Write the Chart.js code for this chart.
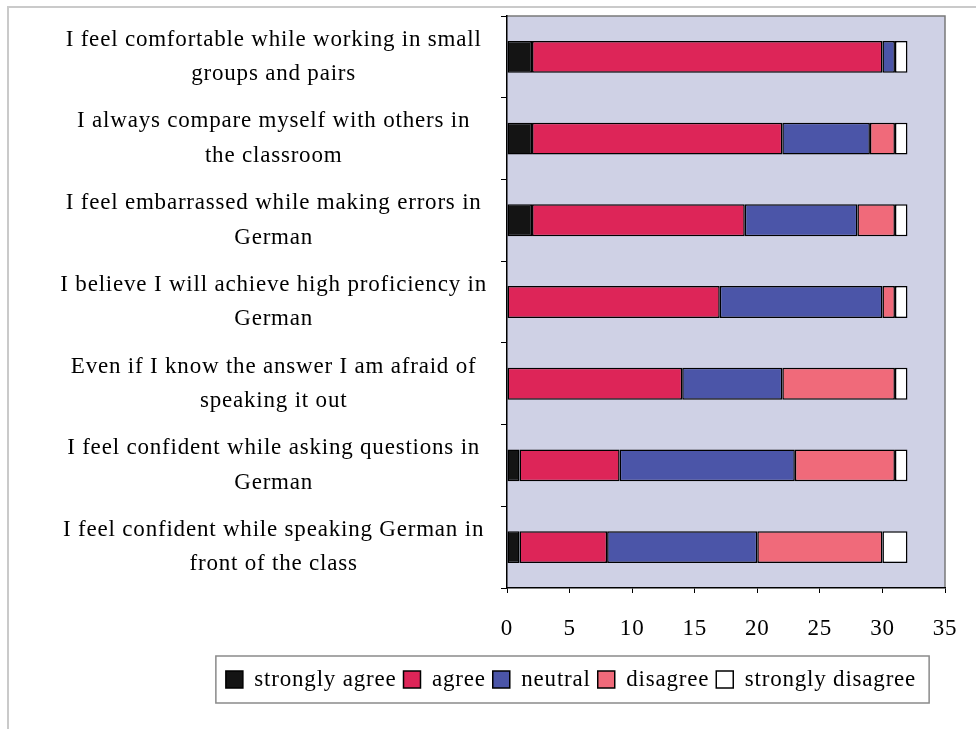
<!DOCTYPE html>
<html>
<head>
<meta charset="utf-8">
<title>Speaking German in class</title>
<script src="https://cdn.jsdelivr.net/npm/chart.js@4.4.1/dist/chart.umd.min.js"></script>
<style>
    html, body {
        margin: 0;
        padding: 0;
        background: #ffffff;
    }
    #chartBox {
        position: relative;
        width: 976px;
        height: 729px;
    }
</style>
</head>
<body>
<div id="chartBox">
    <canvas id="attitudeChart" width="976" height="729"></canvas>
</div>
<script>
// statements, top to bottom (each one wrapped on two lines)
const statements = [
    ['I feel comfortable while working in small', 'groups and pairs'],
    ['I always compare myself with others in', 'the classroom'],
    ['I feel embarrassed while making errors in', 'German'],
    ['I believe I will achieve high proficiency in', 'German'],
    ['Even if I know the answer I am afraid of', 'speaking it out'],
    ['I feel confident while asking questions in', 'German'],
    ['I feel confident while speaking German in', 'front of the class']
];

// number of students per answer
const stronglyAgree = [2, 2, 2, 0, 0, 1, 1];
const agree = [28, 20, 17, 17, 14, 8, 7];
const neutral = [1, 7, 9, 13, 8, 14, 12];
const disagree = [0, 2, 3, 1, 9, 8, 10];
const stronglyDisagree = [1, 1, 1, 1, 1, 1, 2];

const answerLabels = ['strongly agree', 'agree', 'neutral', 'disagree', 'strongly disagree'];
const answerColors = ['#141414', '#dd2558', '#4b55a8', '#f06a7a', '#ffffff'];

const axisMax = 35;
const axisStep = 5;

const serif = "'Liberation Serif', 'Times New Roman', serif";
const plotBackground = '#cfd1e5';

// the old Excel text is set a little loose
const letterSpacing = {
    id: 'letterSpacing',
    beforeUpdate(chart) {
        chart.ctx.letterSpacing = '0.8px';
    },
    beforeDraw(chart) {
        chart.ctx.letterSpacing = '0.8px';
    }
};

// grey plot area with its frame, plus the outer frame of the figure
const plotFrame = {
    id: 'plotFrame',
    beforeDraw(chart) {
        const {ctx, chartArea: {left, top, right, bottom}} = chart;
        ctx.save();
        ctx.strokeStyle = '#cacaca';
        ctx.lineWidth = 2;
        ctx.beginPath();
        ctx.moveTo(8, chart.height);
        ctx.lineTo(8, 7);
        ctx.lineTo(chart.width, 7);
        ctx.stroke();

        ctx.fillStyle = plotBackground;
        ctx.fillRect(left, top, right - left, bottom - top);
        ctx.strokeStyle = '#7a7a7a';
        ctx.lineWidth = 1.5;
        ctx.beginPath();
        ctx.moveTo(left, top);
        ctx.lineTo(right, top);
        ctx.lineTo(right, bottom);
        ctx.stroke();
        ctx.restore();
    }
};

// legend sits under the plot, a bit left of centre, inside a box
const legendBox = {
    id: 'legendBox',
    afterLayout(chart) {
        const legend = chart.legend;
        const shift = 571 - (legend.left + legend.right) / 2;
        legend.left += shift;
        legend.right += shift;
        const h = legend.bottom - legend.top;
        legend.top = 661;
        legend.bottom = 661 + h;
    },
    afterDraw(chart) {
        const legend = chart.legend;
        const pad = legend.options.labels.padding;
        const lineWidth = legend.lineWidths[0];
        const rowStart = (legend.left + pad + legend.right - lineWidth) / 2;
        const ctx = chart.ctx;
        ctx.save();
        ctx.strokeStyle = '#8a8a8a';
        ctx.lineWidth = 1.5;
        ctx.strokeRect(rowStart - 10, legend.top - 5, lineWidth - pad + 23, 47);
        ctx.restore();
    }
};

const datasets = [stronglyAgree, agree, neutral, disagree, stronglyDisagree].map((values, i) => ({
    label: answerLabels[i],
    data: values,
    backgroundColor: answerColors[i],
    borderColor: '#000000',
    borderWidth: 1.5,
    borderSkipped: false,
    barPercentage: 0.39,
    categoryPercentage: 1
}));

new Chart(document.getElementById('attitudeChart'), {
    type: 'bar',
    data: {
        labels: statements,
        datasets: datasets
    },
    options: {
        indexAxis: 'y',
        responsive: false,
        animation: false,
        layout: {
            padding: {left: 0, top: 16, right: 31, bottom: 51}
        },
        scales: {
            x: {
                stacked: true,
                min: 0,
                max: axisMax,
                ticks: {
                    stepSize: axisStep,
                    color: '#000000',
                    padding: 22,
                    font: {family: serif, size: 23, lineHeight: 1.2}
                },
                grid: {
                    drawOnChartArea: false,
                    color: '#000000',
                    tickLength: 5
                },
                border: {color: '#000000', width: 1.5},
                afterFit(scale) {
                    scale.height = 50;
                    scale.paddingLeft = 0;
                    scale.paddingRight = 0;
                }
            },
            y: {
                stacked: true,
                ticks: {
                    color: '#000000',
                    padding: 14,
                    crossAlign: 'center',
                    font: {family: serif, size: 23, lineHeight: 1.5}
                },
                grid: {
                    drawOnChartArea: false,
                    offset: true,
                    color: '#000000',
                    tickLength: 6
                },
                border: {color: '#000000', width: 1.5},
                afterFit(scale) {
                    scale.width = 507;
                    scale.paddingTop = 0;
                    scale.paddingBottom = 0;
                }
            }
        },
        plugins: {
            legend: {
                position: 'bottom',
                labels: {
                    color: '#000000',
                    boxWidth: 17,
                    boxHeight: 17,
                    padding: 7,
                    font: {family: serif, size: 23}
                }
            },
            tooltip: {enabled: false}
        }
    },
    plugins: [letterSpacing, plotFrame, legendBox]
});
</script>
</body>
</html>
